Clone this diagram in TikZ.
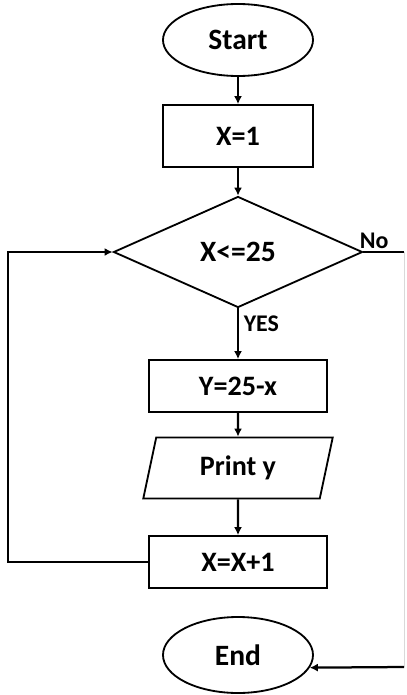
\documentclass[tikz,border=0pt]{standalone}
\usepackage{fontspec}
\setmainfont{Carlito}
\usepackage{tikz}
\usetikzlibrary{shapes.geometric,arrows.meta,positioning,calc}

\begin{document}
\begin{tikzpicture}[
    terminal/.style={draw, ellipse, line width=1.3pt, font=\fontsize{21}{23}\selectfont\bfseries, minimum width=3.75cm, minimum height=1.8cm, inner sep=0pt},
    process/.style={draw, rectangle, line width=1.3pt, font=\fontsize{20}{22}\selectfont\bfseries, minimum width=4.45cm, minimum height=1.3cm, inner sep=0pt},
    decision/.style={draw, diamond, line width=1.3pt, font=\fontsize{21}{23}\selectfont\bfseries, aspect=2.2, minimum width=6.225cm, minimum height=2.775cm, inner sep=0pt},
    io/.style={draw, trapezium, trapezium left angle=76, trapezium right angle=104, trapezium stretches=true, line width=1.3pt, font=\fontsize{20}{22}\selectfont\bfseries, minimum width=4.75cm, minimum height=1.525cm, inner sep=0pt},
    flow/.style={-{Latex[length=2mm, width=2mm]}, line width=1.6pt},
    lbl/.style={font=\fontsize{17}{19}\selectfont\bfseries}
]
    \useasboundingbox (0,0) rectangle (10.15,-17.375);

    % Main column
    \node[terminal] (start) at (5.95, -1.0) {Start};
    \node[process, minimum width=3.75cm, minimum height=1.55cm] (init) at (5.95, -3.4) {X=1};
    \node[decision] (cond) at (5.95, -6.3) {X<=25};
    \node[process] (calc) at (5.95, -9.65) {Y=25-x};
    \node[io] (print) at (5.95, -11.7) {Print y};
    \node[process] (incr) at (5.95, -14.05) {X=X+1};
    \node[terminal, minimum height=1.9cm] (stop) at (5.95, -16.375) {End};

    \draw[flow] (start) -- (init);
    \draw[flow] (init) -- (cond);
    \draw[flow] (cond) -- node[lbl, right, pos=0.3] {YES} (calc);
    \draw[flow] (calc) -- (print);
    \draw[flow] (print) -- (incr);

    % Loop back
    \coordinate (loopA) at (0.2, -14.05);
    \coordinate (loopB) at (0.2, -6.3);
    \draw[flow] (incr) -- (loopA) -- (loopB) -- (cond);

    % No branch
    \coordinate (noA) at (10.1, -6.3);
    \coordinate (noB) at (10.1, -16.675);
    \node[lbl, above right=-1pt and -6pt] (no) at (cond.east) {No};
    \draw[line width=1.6pt] (cond.east) -- (noA);
    \draw[black!15, line width=0.6pt] (noA) -- (noB);
    \draw[flow] (noB) -- (stop.-10);
\end{tikzpicture}
\end{document}
